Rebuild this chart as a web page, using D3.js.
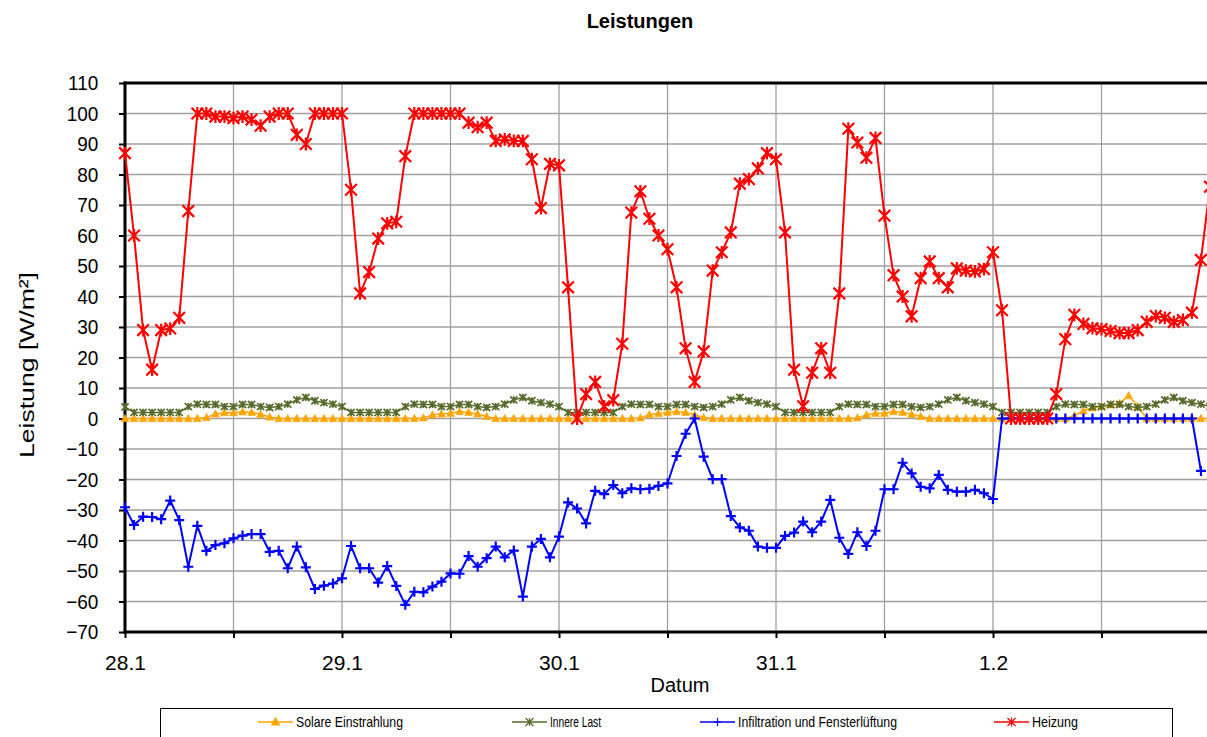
<!DOCTYPE html>
<html><head><meta charset="utf-8">
<script src="https://cdn.jsdelivr.net/npm/d3@7"></script>
<style>
body{margin:0;background:#fff;}
svg{display:block;font-family:"Liberation Sans",Arial,sans-serif;}
</style></head>
<body>
<svg id="chart" width="1207" height="737"></svg>
<script>
// ---- data (hourly, starting 28.1 00:00) ----
const dayLabels = ["28.1","29.1","30.1","31.1","1.2"];
const dayLabelHours = [0,24,48,72,96];
const gridHours = [0,12,24,36,48,60,72,84,96,108,120];
const yTicks = [-70,-60,-50,-40,-30,-20,-10,0,10,20,30,40,50,60,70,80,90,100,110];
const seriesNames = ["Solare Einstrahlung","Innere Last","Infiltration und Fensterlüftung","Heizung"];

const solar = [
 0,0,0,0,0,0,0,0,0,0.3, 1.5,1.9,1.9,2.2,2.0,1.4,0.5,0,0,0, 0,0,0,0,
 0,0,0,0,0,0,0,0,0,0.2, 1.2,1.5,1.7,2.3,2.0,1.5,0.7,0,0,0, 0,0,0,0,
 0,0,0,0,0,0,0,0,0,0.2, 1.3,1.6,2.0,2.3,2.0,1.2,0.3,0,0,0, 0,0,0,0,
 0,0,0,0,0,0,0,0,0,0.2, 1.2,1.7,1.7,2.3,2.0,1.4,0.7,0,0,0, 0,0,0,0,
 0,0,0,0,0,0,0,0,0,0.9, 2.5,3.5,4.0,4.5,5.0,7.5,4.0,0,0,0, 0,0,0,0,
 0];

const innere = [
 3.8,2.0,2.0,2.0,2.0,2.0,2.0,3.9,4.7,4.6, 4.6,3.9,3.9,4.6,4.6,3.9,3.6,3.9,4.7,6.1, 6.9,5.8,5.2,4.7,
 3.9,2.0,2.0,2.0,2.0,2.0,2.0,3.9,4.7,4.6, 4.6,3.9,3.9,4.6,4.6,3.9,3.6,3.9,4.7,6.1, 6.9,5.8,5.2,4.7,
 3.9,2.0,2.0,2.0,2.0,2.0,2.0,3.9,4.7,4.6, 4.6,3.9,3.9,4.6,4.6,3.9,3.6,3.9,4.7,6.1, 6.9,5.8,5.2,4.7,
 3.9,2.0,2.0,2.0,2.0,2.0,2.0,3.9,4.7,4.6, 4.6,3.9,3.9,4.6,4.6,3.9,3.6,3.9,4.7,6.1, 6.9,5.8,5.2,4.7,
 3.9,2.0,2.0,2.0,2.0,2.0,2.0,3.9,4.7,4.6, 4.6,3.9,3.9,4.6,4.6,3.9,3.6,3.9,4.7,6.1, 6.9,5.8,5.2,4.7,
 3.9];

const infiltration = [
 -29.1,-34.9,-32.2,-32.3,-33,-26.9,-33.3,-48.6,-35.2,-43.4,
 -41.5,-40.9,-39.3,-38.4,-37.9,-37.9,-43.7,-43.4,-49.1,-42,
 -48.8,-55.9,-54.8,-54.1,-52.4,-41.8,-49.1,-49.1,-53.8,-48.4,
 -54.9,-61.1,-56.8,-57,-55.1,-53.5,-50.8,-50.9,-45.1,-48.6,
 -45.8,-42,-45.5,-43.3,-58.4,-42,-39.5,-45.5,-38.7,-27.5,
 -29.5,-34.4,-23.7,-24.8,-21.8,-24.5,-22.9,-23.2,-23,-22.1,
 -21.3,-12.3,-5,0,-12.5,-19.9,-19.9,-32,-35.7,-36.8,
 -42,-42.4,-42.4,-38.5,-37.4,-33.8,-37.3,-33.8,-26.7,-39.1,
 -44.4,-37.3,-41.8,-36.8,-23.2,-23.2,-14.5,-18,-22.4,-22.9,
 -18.5,-23.4,-24,-24,-23.4,-24.5,-26.4,0,0,0,
 0,0,0,0,0,0,0,0,0,0,
 0,0,0,0,0,0,0,0,0,-17.2];

const heizung = [
 87,60,29,16,29,29.5,33,68,100,100,
 99,99,98.5,99,98,96,99,100,100,93,
 90,100,100,100,100,75,41,48,59,64,
 64.5,86,100,100,100,100,100,100,97,95.5,
 97,91,91.5,91,91,85,69,83.5,83,43,
 0,8,12,4,6,24.5,67.5,74.5,65.5,60,
 55.5,43,23,12,22,48.5,54.5,61,77,78.5,
 82,87,85,61,16,4,15,23,15,41,
 95,90.5,85.5,92,66.5,47,40,33.5,46,51.5,
 46,43,49.2,48.5,48.2,49,54.5,35.5,0,0,
 0,0,0,8,26,34,31,29.6,29.3,28.7,
 28,28,29,31.7,33.6,33,31.7,32.3,34.7,52,
 76];

// ---- layout ----
const svg = d3.select("#chart");
const L = 125, R = 1210, T = 83, B = 632;
const x = d3.scaleLinear().domain([0,120]).range([L,R]);
const y = d3.scaleLinear().domain([-70,110]).range([B,T]);

const colors = ["#ffa500","#55692a","#0000ff","#ff0000"];

// grid
const grid = svg.append("g");
grid.selectAll("line.h").data(yTicks).join("line")
  .attr("x1",L).attr("x2",R).attr("y1",d=>y(d)).attr("y2",d=>y(d))
  .attr("stroke","#a0a0a0").attr("stroke-width",1.3);
grid.selectAll("line.v").data(gridHours).join("line")
  .attr("y1",T).attr("y2",B).attr("x1",d=>x(d)).attr("x2",d=>x(d))
  .attr("stroke","#a0a0a0").attr("stroke-width",1.3);

// axes
const yAxis = d3.axisLeft(y).tickValues(yTicks).tickSize(6).tickPadding(22).tickFormat(d3.format("d"));
const gy = svg.append("g").attr("transform",`translate(${L},0)`).call(yAxis);
gy.select(".domain").remove();
gy.selectAll(".tick line").attr("stroke","#000").attr("stroke-width",2);
gy.selectAll(".tick text").attr("font-size",20).attr("fill","#000")
  .attr("font-family","'Liberation Sans',Arial,sans-serif")
  .attr("transform","scale(0.95,1.05)");

const xAxis = d3.axisBottom(x).tickValues(gridHours).tickSize(6).tickFormat(d=>{
  const i = dayLabelHours.indexOf(d); return i>=0 ? dayLabels[i] : "";});
const gx = svg.append("g").attr("transform",`translate(0,${B})`).call(xAxis);
gx.select(".domain").remove();
gx.selectAll(".tick line").attr("stroke","#000").attr("stroke-width",2);
gx.selectAll(".tick text").attr("font-size",21).attr("fill","#000").attr("y",23).attr("dy","0.71em")
  .attr("font-family","'Liberation Sans',Arial,sans-serif");

// frame lines
svg.append("line").attr("x1",L).attr("x2",L).attr("y1",T-1.5).attr("y2",B+1.5).attr("stroke","#000").attr("stroke-width",3);
svg.append("line").attr("x1",L-1.5).attr("x2",R).attr("y1",B).attr("y2",B).attr("stroke","#000").attr("stroke-width",3);
svg.append("line").attr("x1",L-1.5).attr("x2",R).attr("y1",T).attr("y2",T).attr("stroke","#000").attr("stroke-width",3);

// markers
const markers = [
  s=>`M0,${-s}L${s*0.95},${s*0.75}L${-s*0.95},${s*0.75}Z`,
  s=>`M${-s},${-s}L${s},${s}M${-s},${s}L${s},${-s}M0,${-s}L0,${s}`,
  s=>`M${-s},0L${s},0M0,${-s}L0,${s}`,
  s=>`M${-s},${-s}L${s},${s}M${-s},${s}L${s},${-s}M0,${-s*1.1}L0,${s*1.1}`
];
const mSize = [4.2,3.6,5,5.8];
const lineW = [1.5,1.5,2,2];
const datasets = [solar, innere, infiltration, heizung];

const line = d3.line().x((d,i)=>x(i)).y(d=>y(d));
datasets.forEach((data,k)=>{
  const g = svg.append("g");
  g.append("path").datum(data).attr("d",line).attr("fill","none")
    .attr("stroke",colors[k]).attr("stroke-width",lineW[k]).attr("stroke-linejoin","round");
  g.selectAll("path.m").data(data).join("path").attr("class","m")
    .attr("transform",(d,i)=>`translate(${x(i)},${y(d)})`)
    .attr("d",markers[k](mSize[k]))
    .attr("fill",k===0?colors[k]:"none")
    .attr("stroke",colors[k]).attr("stroke-width",k===0?0.5:(k===1?1.7:2.2));
});

// title & labels
svg.append("text").attr("x",640).attr("y",28).attr("text-anchor","middle")
  .attr("font-size",20).attr("font-weight","bold").text("Leistungen");
svg.append("text").attr("transform",`translate(34,${365}) rotate(-90)`).attr("text-anchor","middle")
  .attr("font-size",20).attr("textLength",186).attr("lengthAdjust","spacingAndGlyphs").text("Leistung [W/m²]");
svg.append("text").attr("x",680).attr("y",692).attr("text-anchor","middle")
  .attr("font-size",20).text("Datum");

// legend
const lg = svg.append("g");
lg.append("rect").attr("x",160.5).attr("y",708.5).attr("width",1012).attr("height",40)
  .attr("fill","#fff").attr("stroke","#000").attr("stroke-width",1);
const legX = [258,512,700,994];
const legW = [107,51,159,46];
const ly = 722;
seriesNames.forEach((n,k)=>{
  lg.append("line").attr("x1",legX[k]).attr("x2",legX[k]+35).attr("y1",ly).attr("y2",ly)
    .attr("stroke",colors[k]).attr("stroke-width",1.5);
  lg.append("path").attr("transform",`translate(${legX[k]+17.5},${ly})`).attr("d",markers[k](4))
    .attr("fill",k===0?colors[k]:"none").attr("stroke",colors[k]).attr("stroke-width",1.2);
  lg.append("text").attr("x",legX[k]+38).attr("y",ly+5).attr("font-size",14.5)
    .attr("textLength",legW[k]).attr("lengthAdjust","spacingAndGlyphs").text(n);
});
</script>
</body></html>
